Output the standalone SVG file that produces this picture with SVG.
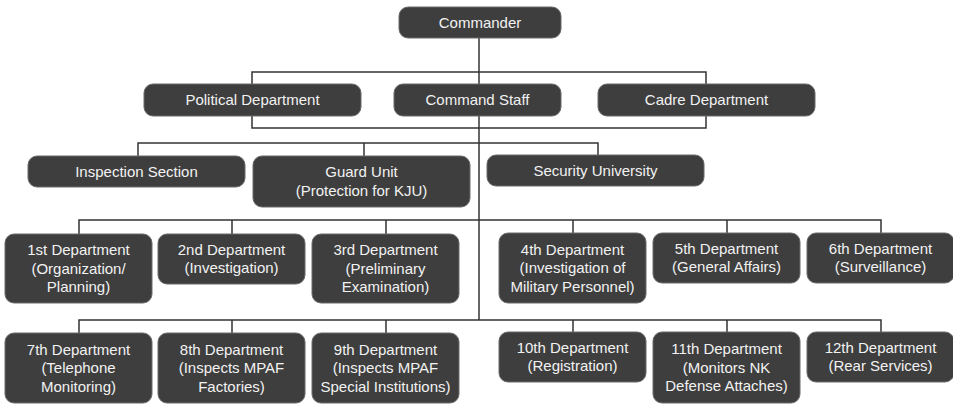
<svg xmlns="http://www.w3.org/2000/svg" width="953" height="404" viewBox="0 0 953 404">
<style>
.n rect{fill:#3e3e3e;stroke:#6a6a6a;stroke-width:1}
.n text{fill:#f2f2f2;font-family:"Liberation Sans",Arial,sans-serif;font-size:15px;text-anchor:middle}
#connectors path{fill:none;stroke:#333;stroke-width:1.5}
</style>
<rect width="953" height="404" fill="#fff"/>
<g id="connectors">
<path d="M479,38 V320"/>
<path d="M252,84 V72 H706 V84"/>
<path d="M252,116 V128 H706 V116"/>
<path d="M138,156 V143 H598 V155"/>
<path d="M364,143 V156"/>
<path d="M79,234 V220 H881 V233"/>
<path d="M232,220 V234 M386,220 V234 M573,220 V233 M727,220 V233"/>
<path d="M79,333 V320 H881 V332"/>
<path d="M232,320 V333 M386,320 V333 M573,320 V332 M727,320 V332"/>
</g>
<g id="commander" class="n"><rect x="399" y="7" width="162" height="31" rx="9"/><text x="480" y="28">Commander</text></g>
<g id="political" class="n"><rect x="144" y="84" width="217" height="32" rx="9"/><text x="252.5" y="105">Political Department</text></g>
<g id="command-staff" class="n"><rect x="394" y="84" width="167" height="32" rx="9"/><text x="477.5" y="105">Command Staff</text></g>
<g id="cadre" class="n"><rect x="598" y="84" width="217" height="32" rx="9"/><text x="706.5" y="105">Cadre Department</text></g>
<g id="inspection" class="n"><rect x="28" y="156" width="217" height="31" rx="9"/><text x="136.5" y="176.5">Inspection Section</text></g>
<g id="guard" class="n"><rect x="253" y="156" width="217" height="51" rx="9"/><text x="361.5" y="177">Guard Unit</text><text x="361.5" y="195.5">(Protection for KJU)</text></g>
<g id="security-university" class="n"><rect x="487" y="155" width="217" height="31" rx="9"/><text x="595.5" y="175.5">Security University</text></g>
<g id="dept1" class="n"><rect x="5" y="234" width="147" height="69" rx="9"/><text x="78.5" y="255">1st Department</text><text x="78.5" y="273.5">(Organization/</text><text x="78.5" y="292">Planning)</text></g>
<g id="dept2" class="n"><rect x="158" y="234" width="147" height="50" rx="9"/><text x="231.5" y="254.5">2nd Department</text><text x="231.5" y="273">(Investigation)</text></g>
<g id="dept3" class="n"><rect x="312" y="234" width="147" height="69" rx="9"/><text x="385.5" y="255">3rd Department</text><text x="385.5" y="273.5">(Preliminary</text><text x="385.5" y="292">Examination)</text></g>
<g id="dept4" class="n"><rect x="499" y="233" width="147" height="70" rx="9"/><text x="572.5" y="254.5">4th Department</text><text x="572.5" y="273">(Investigation of</text><text x="572.5" y="291.5">Military Personnel)</text></g>
<g id="dept5" class="n"><rect x="653" y="233" width="147" height="50" rx="9"/><text x="726.5" y="253.5">5th Department</text><text x="726.5" y="272">(General Affairs)</text></g>
<g id="dept6" class="n"><rect x="807" y="233" width="147" height="50" rx="9"/><text x="880.5" y="253.5">6th Department</text><text x="880.5" y="272">(Surveillance)</text></g>
<g id="dept7" class="n"><rect x="5" y="333" width="147" height="70" rx="9"/><text x="78.5" y="354.5">7th Department</text><text x="78.5" y="373">(Telephone</text><text x="78.5" y="391.5">Monitoring)</text></g>
<g id="dept8" class="n"><rect x="158" y="333" width="147" height="70" rx="9"/><text x="231.5" y="354.5">8th Department</text><text x="231.5" y="373">(Inspects MPAF</text><text x="231.5" y="391.5">Factories)</text></g>
<g id="dept9" class="n"><rect x="312" y="333" width="147" height="70" rx="9"/><text x="385.5" y="354.5">9th Department</text><text x="385.5" y="373">(Inspects MPAF</text><text x="385.5" y="391.5">Special Institutions)</text></g>
<g id="dept10" class="n"><rect x="499" y="332" width="147" height="50" rx="9"/><text x="572.5" y="352.5">10th Department</text><text x="572.5" y="371">(Registration)</text></g>
<g id="dept11" class="n"><rect x="653" y="332" width="147" height="71" rx="9"/><text x="726.5" y="354">11th Department</text><text x="726.5" y="372.5">(Monitors NK</text><text x="726.5" y="391">Defense Attaches)</text></g>
<g id="dept12" class="n"><rect x="807" y="332" width="147" height="50" rx="9"/><text x="880.5" y="352.5">12th Department</text><text x="880.5" y="371">(Rear Services)</text></g>
</svg>
